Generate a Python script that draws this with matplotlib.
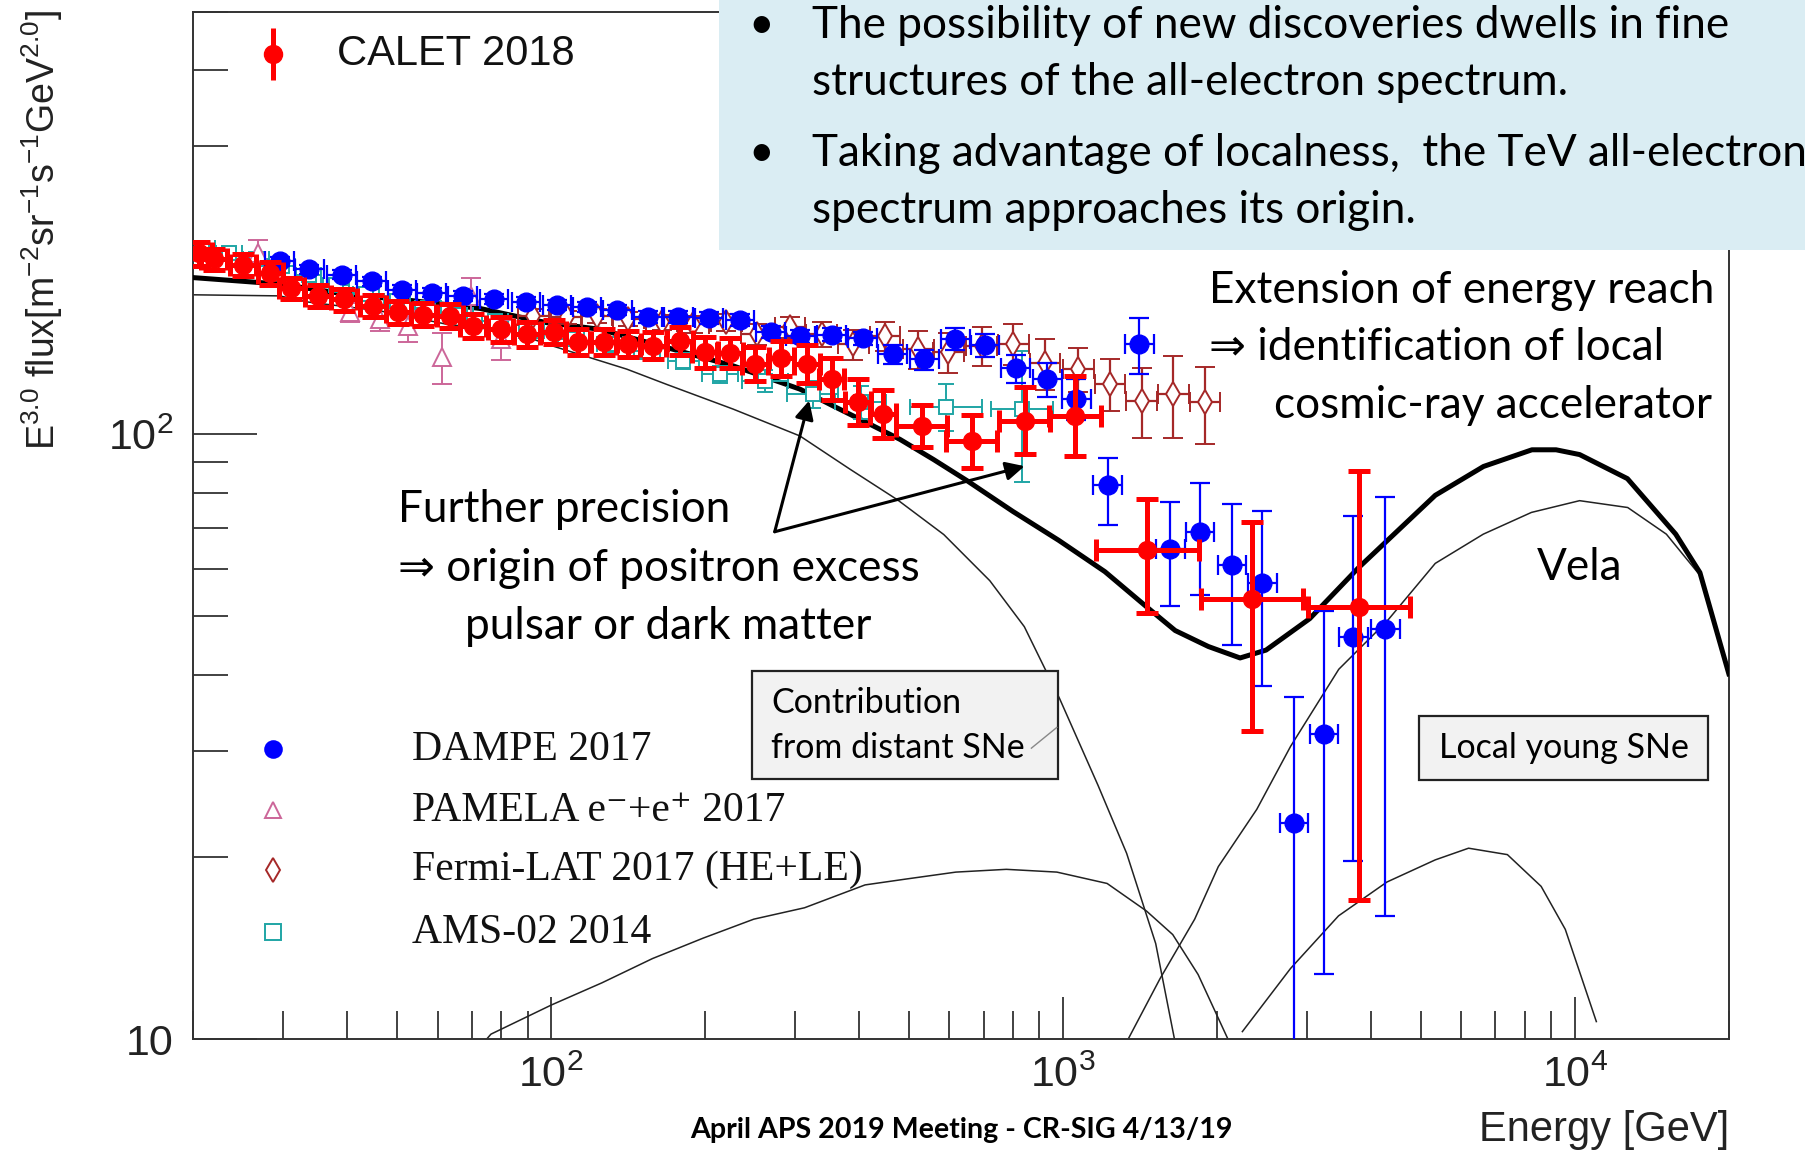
import numpy as np
import matplotlib
matplotlib.use("Agg")
import matplotlib.pyplot as plt
from matplotlib.patches import Rectangle
from matplotlib.ticker import LogLocator, FixedLocator, FuncFormatter, NullFormatter

plt.rcParams['font.family'] = ['Liberation Sans', 'DejaVu Sans']
plt.rcParams['mathtext.fontset'] = 'custom'
plt.rcParams['mathtext.rm'] = 'Liberation Sans'
plt.rcParams['mathtext.it'] = 'Liberation Sans:italic'
plt.rcParams['mathtext.bf'] = 'Liberation Sans:bold'

# ---------------- model curves (E [GeV], E^3 flux) ----------------
total_E = [20.0, 29.5, 39.8, 53.8, 72.6, 84.4, 98.0, 124.4, 168.0, 226.8, 306.3, 355.9,
           413.5, 480.6, 558.5, 648.9, 798.1, 981.7, 1208, 1456, 1657, 1924, 2219, 2494,
           3036, 3773, 5339, 6633, 8248, 9194, 10222, 12672, 15750, 17560, 20000]
total_F = [181.6, 177.2, 170.5, 166.3, 161.5, 157.1, 153.0, 149.2, 139.2, 129.8, 118.8, 111.4,
           104.6, 98.1, 90.9, 83.9, 74.6, 66.8, 59.3, 51.9, 47.4, 44.6, 42.7, 44.0,
           49.6, 60.1, 79.3, 88.5, 94.3, 94.3, 92.6, 84.5, 68.4, 59.1, 40.2]

distant_E = [20.0, 29.5, 33.3, 46.3, 62.5, 84.4, 98.0, 140.5, 168.0, 226.8, 306.3, 383.6,
             475.6, 585.1, 719.7, 840.6, 984.9, 1171, 1332, 1518, 1656]
distant_F = [170.1, 169.4, 165.6, 160.0, 152.1, 147.7, 141.0, 128.2, 121.0, 110.1, 99.4, 87.6,
             77.9, 68.3, 57.3, 48.1, 36.6, 26.3, 20.3, 14.4, 9.9]

mid_E = [74.0, 76.3, 100.2, 125.7, 157.8, 198.2, 248.9, 312.7, 410.6, 492.2, 617.9, 775.3,
         973.2, 1220, 1456, 1639, 1837, 2102]
mid_F = [9.9, 10.2, 11.4, 12.4, 13.6, 14.7, 15.8, 16.5, 18.0, 18.4, 18.9, 19.1,
         18.9, 18.1, 16.3, 14.9, 12.8, 10.0]

vela_E = [1332, 1548, 1809, 2012, 2392, 2785, 3459, 4296, 5339, 6627, 8229, 10220,
          12690, 15100, 17560, 20000]
vela_F = [9.9, 12.6, 15.8, 19.3, 24.0, 30.5, 40.9, 49.1, 61.2, 68.4, 74.3, 77.7,
          75.7, 68.4, 58.5, 40.0]

young_E = [2242, 2785, 3455, 4296, 5339, 6202, 7386, 8597, 9583, 11020]
young_F = [10.3, 13.1, 16.0, 18.2, 19.8, 20.7, 20.2, 17.9, 15.2, 10.7]

# ---------------- measurements ----------------
dampe_E = [29.5, 33.7, 39.0, 44.6, 51.1, 58.4, 67.2, 77.3, 89.3, 102.7, 117.5, 134.8,
           154.6, 177.4, 203.4, 233.9, 268.4, 307.1, 353.1, 406.1, 464.7, 535.8, 616.2,
           704.8, 808.9, 932.1, 1062, 1223, 1410, 1621, 1853, 2139, 2451, 2828, 3235,
           3692, 4268]
dampe_F = [193.1, 187.3, 183.6, 179.2, 173.4, 171.5, 169.3, 167.4, 165.6, 163.8, 162.4, 160.6,
           156.4, 156.4, 155.6, 154.4, 147.7, 145.2, 146.2, 144.2, 135.7, 133.0, 143.8,
           140.4, 128.5, 123.4, 114.5, 82.5, 140.8, 64.6, 69.0, 60.9, 56.8, 22.8, 32.0,
           46.2, 47.6]
dampe_lo = [3, 3, 3, 3, 3, 3, 3, 3, 3, 3, 3, 3, 3.5, 3.5, 3.5, 3.5, 3.5, 3.5, 3.5, 3.5,
            5, 5, 6, 6, 7, 8, 9, 11.6, 15.1, 12.5, 14.8, 16.1, 18.4, 14.8, 19.2, 26.5, 31.6]
dampe_hi = [3, 3, 3, 3, 3, 3, 3, 3, 3, 3, 3, 3, 3.5, 3.5, 3.5, 3.5, 3.5, 3.5, 3.5, 3.5,
            5, 5, 6, 6, 7, 8, 9, 8.9, 15.2, 12.7, 14.2, 15.9, 17.9, 14.0, 19.0, 27.0, 31.3]
dampe_dex = 0.028

calet_E = [20.5, 21.96, 25.0, 28.3, 31.1, 35.0, 39.4, 44.9, 50.3, 56.3, 63.5, 70.4, 79.7,
           89.8, 101.1, 112.7, 127.0, 141.6, 158.3, 178.5, 199.8, 223.6, 250.3, 281.9,
           316.0, 353.3, 398.2, 445.6, 529.7, 663.2, 842.8, 1056, 1463, 2343, 3793]
calet_F = [199.1, 194.8, 190.6, 184.8, 174.5, 169.6, 167.1, 163.1, 159.2, 157.8, 157.1, 151.1,
           149.1, 146.5, 147.8, 142.1, 142.4, 141.1, 140.2, 142.7, 136.6, 136.2, 130.7, 133.6,
           130.7, 123.4, 113.1, 108.2, 103.1, 97.4, 105.4, 107.3, 64.4, 53.4, 51.9]
calet_lo = [9, 8, 8, 8, 7, 7, 7, 7, 7, 7, 7, 7, 7, 7, 7, 7, 7, 7, 7, 7.5, 7.9, 7.6, 8.3,
            8.5, 9.2, 9.6, 9.3, 9.5, 7.9, 9.3, 12.6, 15.2, 13.8, 21.1, 34.9]
calet_hi = [9, 8, 8, 8, 7, 7, 7, 7, 7, 7, 7, 7, 7, 7, 7, 7, 7, 7.3, 7.3, 7.9, 8.4, 7.9, 8.9,
            9.1, 9.9, 10.5, 10.3, 10.4, 8.6, 10.3, 14.3, 17.8, 13.7, 18.2, 35.1]
calet_dex = [0.025] * 28 + [0.05, 0.05, 0.05, 0.05, 0.1, 0.1, 0.1]

fermi_E = [92.3, 107.2, 122.7, 141.5, 164.4, 189.6, 220.1, 252.0, 292.9, 337.8, 389.4, 449.0,
           521.9, 597.0, 693.5, 799.8, 922.2, 1071.5, 1235.6, 1424.5, 1642.7, 1894]
fermi_F = [157.0, 156.1, 157.0, 155.1, 153.1, 152.1, 153.1, 146.4, 150.2, 146.4, 140.9, 145.5,
           138.3, 136.6, 140.1, 141.0, 131.1, 128.2, 121.1, 113.6, 116.5, 112.9]
fermi_err = [4, 4, 4, 4, 4.5, 5, 5, 6, 6, 7, 8, 8, 10, 10.5, 10.5, 11, 12.5, 10.5, 12, 15, 18, 16.5]
fermi_dex = 0.03

ams_E = [20.8, 23.5, 26.5, 29.8, 33.6, 38.0, 43.5, 50.0, 57.5, 66.5, 77.7, 91.6, 109.3,
         130.3, 153.8, 181.3, 213.8, 261.8, 324.2, 402.9, 591.1, 832.0]
ams_F = [203.5, 199.1, 194.8, 189.7, 183.2, 176.9, 170.8, 166.3, 162.0, 157.8, 153.7, 148.4,
         143.9, 140.8, 137.2, 132.4, 125.7, 122.6, 116.6, 113.1, 111.1, 110.3]
ams_err = [4, 4, 4, 4, 4, 4, 4, 4, 4, 4, 4, 4, 4, 4, 4, 4, 4, 5, 6, 7, 10, 27]
ams_dex = [0.025] * 15 + [0.03, 0.035, 0.045, 0.05, 0.05, 0.07, 0.06]

pamela_E = [26.8, 40.5, 46.3, 52.6, 61.1, 69.9, 80.0]
pamela_F = [199.8, 159.1, 155.1, 151.2, 134.0, 169.5, 143.7]
pamela_err = [10, 6, 7, 9, 13, 12, 11]

C_DAMPE = '#0000ff'
C_CALET = '#ff0000'
C_FERMI = '#a52828'
C_AMS = '#1fa5a5'
C_PAMELA = '#cc6699'


def xbars(E, dex):
    E = np.asarray(E, float)
    d = np.asarray(dex, float) * np.ones_like(E)
    return [E - E / 10 ** d, E * 10 ** d - E]


fig = plt.figure(figsize=(18.05, 11.51), dpi=100)
ax = fig.add_axes([0.1071, 0.0970, 0.8507, 0.8930])
ax.set_xscale('log')
ax.set_yscale('log')
ax.set_xlim(20, 20000)
ax.set_ylim(10, 500)

# model curves
for E, F in [(distant_E, distant_F), (mid_E, mid_F), (vela_E, vela_F), (young_E, young_F)]:
    ax.plot(E, F, color='#222222', lw=1.1, zorder=2)
ax.plot(total_E, total_F, color='black', lw=3.6, zorder=3)

# data
ax.errorbar(ams_E, ams_F, yerr=ams_err, xerr=xbars(ams_E, ams_dex), fmt='s', ms=9.5,
            mfc='white', mec=C_AMS, mew=1.4, ecolor=C_AMS, elinewidth=1.4,
            capsize=6, capthick=1.4, zorder=4)
ax.errorbar(pamela_E, pamela_F, yerr=pamela_err, fmt='^', ms=13, mfc='white',
            mec=C_PAMELA, mew=1.4, ecolor=C_PAMELA, elinewidth=1.4, capsize=7,
            capthick=1.4, zorder=4)
ax.errorbar(fermi_E, fermi_F, yerr=fermi_err, xerr=xbars(fermi_E, fermi_dex), fmt='d',
            ms=12, mfc='white', mec=C_FERMI, mew=1.4, ecolor=C_FERMI, elinewidth=1.6,
            capsize=7, capthick=1.6, zorder=5)
ax.errorbar(dampe_E, dampe_F, yerr=[dampe_lo, dampe_hi], xerr=xbars(dampe_E, dampe_dex),
            fmt='o', ms=13.5, mfc=C_DAMPE, mec=C_DAMPE, ecolor=C_DAMPE, elinewidth=1.6,
            capsize=7, capthick=1.6, zorder=6)
ax.errorbar(calet_E, calet_F, yerr=[calet_lo, calet_hi], xerr=xbars(calet_E, calet_dex),
            fmt='o', ms=13, mfc=C_CALET, mec=C_CALET, ecolor=C_CALET, elinewidth=3.6,
            capsize=8, capthick=3.6, zorder=7)

# axes styling (ROOT look)
for s in ax.spines.values():
    s.set_linewidth(1.4)
    s.set_color('#333333')
ax.xaxis.set_major_locator(FixedLocator([100, 1000, 10000]))
ax.xaxis.set_minor_locator(LogLocator(base=10, subs=np.arange(2, 10), numticks=20))
ax.yaxis.set_major_locator(FixedLocator([10, 100]))
ax.yaxis.set_minor_locator(LogLocator(base=10, subs=np.arange(2, 10), numticks=20))
ax.xaxis.set_minor_formatter(NullFormatter())
ax.yaxis.set_minor_formatter(NullFormatter())
ax.xaxis.set_major_formatter(FuncFormatter(lambda v, p: r'$10^{%d}$' % round(np.log10(v))))
ax.yaxis.set_major_formatter(FuncFormatter(lambda v, p: '10' if v < 50 else r'$10^{2}$'))
ax.tick_params(axis='both', which='both', direction='in', colors='#333333',
               labelcolor='#222222', labelsize=31, width=1.3, top=False, right=False)
ax.tick_params(axis='x', which='major', length=30, pad=12)
ax.tick_params(axis='x', which='minor', length=20)
ax.tick_params(axis='y', which='major', length=46, pad=14)
ax.tick_params(axis='y', which='minor', length=25)

# axis titles
fig.text(0.0236, 0.800, r'E$^{3.0}$ flux[m$^{-2}$sr$^{-1}$s$^{-1}$GeV$^{2.0}$]',
         rotation=90, ha='center', va='center', fontsize=27, color='#222222')
fig.text(0.9579, 0.018, 'Energy [GeV]', ha='right', va='center', fontsize=30, color='#222222')

# legends, ROOT style
ax.errorbar([0.0517], [0.9586], yerr=[0.025], fmt='o', ms=13, color=C_CALET,
            elinewidth=3.6, transform=ax.transAxes, clip_on=False, zorder=8)
ax.text(0.0937, 0.9586, 'CALET 2018', transform=ax.transAxes, fontsize=30,
        va='center', ha='left', color='#111111')
leg = [('o', C_DAMPE, C_DAMPE, 0.2822),
       ('^', 'white', C_PAMELA, 0.2228),
       ('d', 'white', C_FERMI, 0.1646),
       ('s', 'white', C_AMS, 0.1041)]
for mk, fc, ec, yy in leg:
    ax.plot([0.0517], [yy], marker=mk, ms=12 if mk != 's' else 11, mfc=fc, mec=ec, mew=1.4,
            ls='none', transform=ax.transAxes, clip_on=False, zorder=8)
serif = dict(transform=ax.transAxes, fontsize=30, family=['Liberation Serif', 'DejaVu Serif'],
             va='center', color='#111111')
ax.text(0.1424, 0.2822, 'DAMPE 2017', **serif)
ax.text(0.1424, 0.2228, 'PAMELA e\u207b+e\u207a 2017', **serif)
ax.text(0.1424, 0.1646, 'Fermi-LAT 2017 (HE+LE)', **serif)
ax.text(0.1424, 0.1041, 'AMS-02 2014', **serif)

# slide overlays
cal = ['Lato', 'DejaVu Sans']
fs = 31.8
fig.patches.append(Rectangle((0.3986, 0.783), 0.6014, 0.217, transform=fig.transFigure,
                             facecolor='#daedf3', edgecolor='none', zorder=5))
for yy, txt, bullet in [(0.978, 'The possibility of new discoveries dwells in fine', True),
                        (0.928, 'structures of the all-electron spectrum.', False),
                        (0.867, 'Taking advantage of localness,  the TeV all-electron', True),
                        (0.817, 'spectrum approaches its origin.', False)]:
    if bullet:
        fig.text(0.4145, yy, '\u2022', fontsize=fs, family=cal, va='center', zorder=6)
    fig.text(0.4496, yy, txt, fontsize=fs, family=cal, va='center', zorder=6)

fig.text(0.6696, 0.748, 'Extension of energy reach', fontsize=fs, family=cal, va='center')
fig.text(0.6696, 0.698, '\u21d2 identification of local', fontsize=fs, family=cal, va='center')
fig.text(0.706, 0.648, 'cosmic-ray accelerator', fontsize=fs, family=cal, va='center')
fig.text(0.2207, 0.557, 'Further precision', fontsize=fs, family=cal, va='center')
fig.text(0.2207, 0.506, '\u21d2 origin of positron excess', fontsize=fs, family=cal, va='center')
fig.text(0.2577, 0.456, 'pulsar or dark matter', fontsize=fs, family=cal, va='center')
fig.text(0.8514, 0.507, 'Vela', fontsize=fs, family=cal, va='center')

fig.patches.append(Rectangle((0.4165, 0.323), 0.1696, 0.094, transform=fig.transFigure,
                             facecolor='#f2f2f2', edgecolor='#222222', lw=1.6, zorder=5))
fig.text(0.4273, 0.389, 'Contribution', fontsize=24.5, family=cal, va='center', zorder=6)
fig.text(0.4273, 0.350, 'from distant SNe', fontsize=24.5, family=cal, va='center', zorder=6)
fig.lines.append(plt.Line2D([0.5714, 0.5855], [0.350, 0.368], transform=fig.transFigure,
                            color='#888888', lw=1.0, zorder=6))
fig.patches.append(Rectangle((0.7863, 0.322), 0.1601, 0.056, transform=fig.transFigure,
                             facecolor='#f2f2f2', edgecolor='#222222', lw=1.6, zorder=5))
fig.text(0.8663, 0.350, 'Local young SNe', fontsize=24.5, family=cal, va='center',
         ha='center', zorder=6)

for tip in [(0.4483, 0.652), (0.5676, 0.595)]:
    fig.add_artist(plt.Annotation('', xy=tip, xytext=(0.4292, 0.538), xycoords='figure fraction',
                                  arrowprops=dict(arrowstyle='-|>', color='black', lw=2.2,
                                                  mutation_scale=28, shrinkA=0, shrinkB=0)))

fig.text(0.5325, 0.018, 'April APS 2019 Meeting - CR-SIG 4/13/19', fontsize=20.6, family=cal,
         weight='bold', ha='center', va='center')

fig.savefig('out.png', dpi=100)
